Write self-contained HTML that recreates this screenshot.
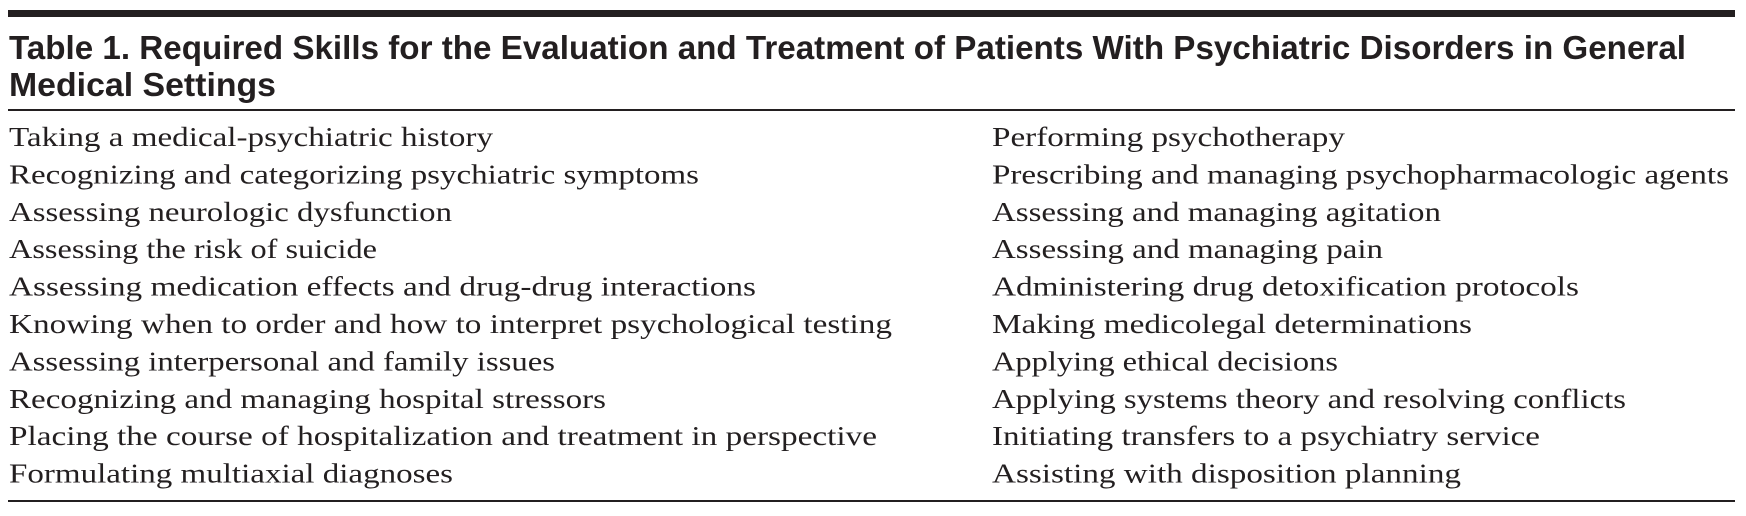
<!DOCTYPE html>
<html><head><meta charset="utf-8"><style>
html,body{margin:0;padding:0;background:#fff;width:1746px;height:516px;overflow:hidden}
svg{display:block}
.t{font-family:"Liberation Sans",sans-serif;font-weight:bold;font-size:33px;fill:#231f20}
.r{font-family:"Liberation Serif",serif;font-size:27px;fill:#231f20}
</style></head><body>
<svg width="1746" height="516" viewBox="0 0 1746 516" xmlns="http://www.w3.org/2000/svg">
<rect x="8" y="10" width="1727" height="7" fill="#231f20"/>
<text class="t" x="9" y="59" textLength="1677" lengthAdjust="spacingAndGlyphs">Table 1. Required Skills for the Evaluation and Treatment of Patients With Psychiatric Disorders in General</text>
<text class="t" x="9" y="96" textLength="267" lengthAdjust="spacingAndGlyphs">Medical Settings</text>
<rect x="8" y="109" width="1727" height="2" fill="#231f20"/>
<g class="r">
<text x="9" y="146" textLength="484" lengthAdjust="spacingAndGlyphs">Taking a medical-psychiatric history</text>
<text x="9" y="183.4" textLength="690" lengthAdjust="spacingAndGlyphs">Recognizing and categorizing psychiatric symptoms</text>
<text x="9" y="220.8" textLength="443" lengthAdjust="spacingAndGlyphs">Assessing neurologic dysfunction</text>
<text x="9" y="258.2" textLength="368" lengthAdjust="spacingAndGlyphs">Assessing the risk of suicide</text>
<text x="9" y="295.6" textLength="747" lengthAdjust="spacingAndGlyphs">Assessing medication effects and drug-drug interactions</text>
<text x="9" y="333" textLength="883" lengthAdjust="spacingAndGlyphs">Knowing when to order and how to interpret psychological testing</text>
<text x="9" y="370.4" textLength="546" lengthAdjust="spacingAndGlyphs">Assessing interpersonal and family issues</text>
<text x="9" y="407.8" textLength="597" lengthAdjust="spacingAndGlyphs">Recognizing and managing hospital stressors</text>
<text x="9" y="445.2" textLength="868" lengthAdjust="spacingAndGlyphs">Placing the course of hospitalization and treatment in perspective</text>
<text x="9" y="482.6" textLength="444" lengthAdjust="spacingAndGlyphs">Formulating multiaxial diagnoses</text>
<text x="992" y="146" textLength="353" lengthAdjust="spacingAndGlyphs">Performing psychotherapy</text>
<text x="992" y="183.4" textLength="737" lengthAdjust="spacingAndGlyphs">Prescribing and managing psychopharmacologic agents</text>
<text x="992" y="220.8" textLength="449" lengthAdjust="spacingAndGlyphs">Assessing and managing agitation</text>
<text x="992" y="258.2" textLength="391" lengthAdjust="spacingAndGlyphs">Assessing and managing pain</text>
<text x="992" y="295.6" textLength="587" lengthAdjust="spacingAndGlyphs">Administering drug detoxification protocols</text>
<text x="992" y="333" textLength="480" lengthAdjust="spacingAndGlyphs">Making medicolegal determinations</text>
<text x="992" y="370.4" textLength="346" lengthAdjust="spacingAndGlyphs">Applying ethical decisions</text>
<text x="992" y="407.8" textLength="634" lengthAdjust="spacingAndGlyphs">Applying systems theory and resolving conflicts</text>
<text x="992" y="445.2" textLength="548" lengthAdjust="spacingAndGlyphs">Initiating transfers to a psychiatry service</text>
<text x="992" y="482.6" textLength="469" lengthAdjust="spacingAndGlyphs">Assisting with disposition planning</text>
</g>
<rect x="8" y="500" width="1727" height="2" fill="#231f20"/>
</svg>
</body></html>
